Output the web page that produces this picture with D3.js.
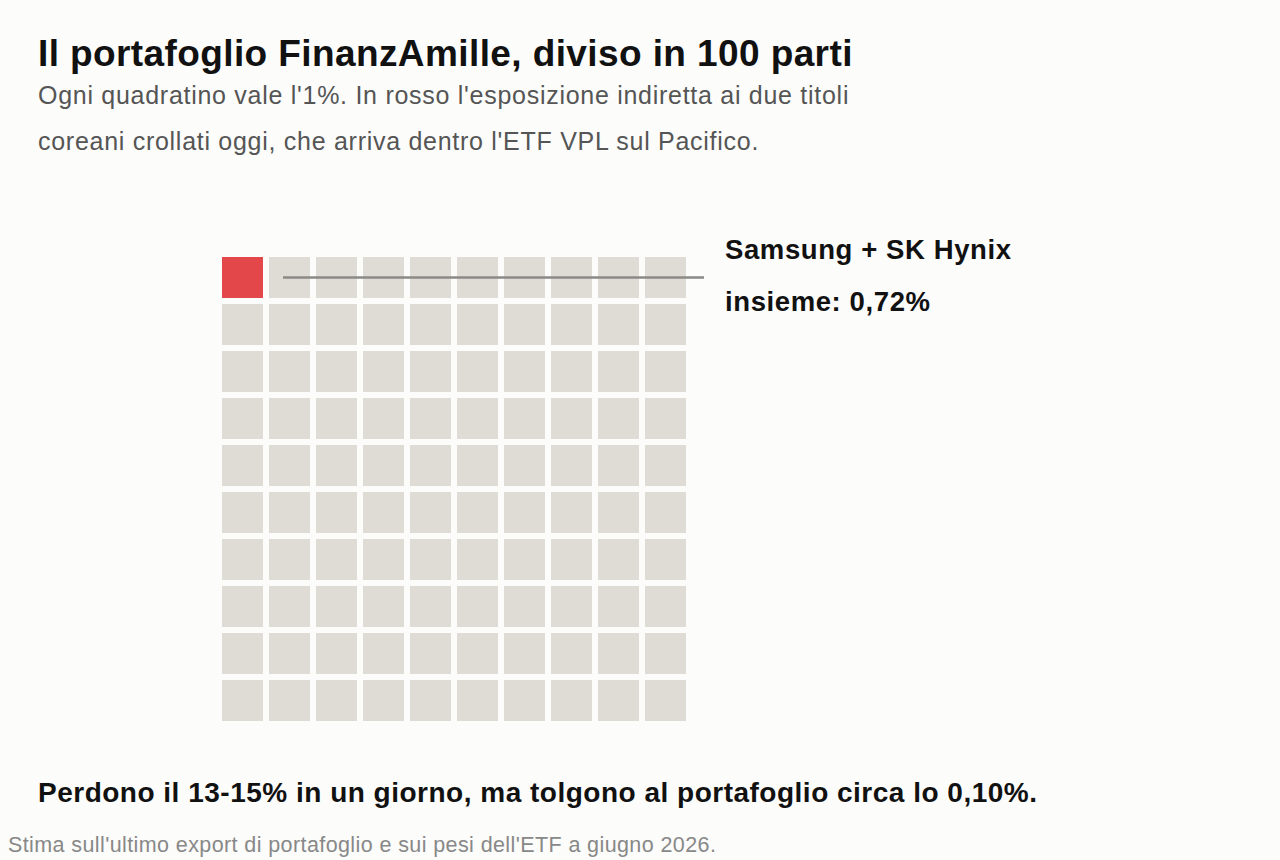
<!DOCTYPE html>
<html>
<head>
<meta charset="utf-8">
<script src="https://cdn.jsdelivr.net/npm/d3@7"></script>
<style>
  html, body { margin: 0; padding: 0; background: #fcfcfa; }
  svg { display: block; font-family: "Liberation Sans", Arial, Helvetica, sans-serif; }
</style>
</head>
<body>
<svg id="chart" width="1280" height="860"></svg>
<script>
// dati
var rows = d3.range(10);
var cols = d3.range(10);
var highlightedCells = 1;        // quadratini rossi (0,72% arrotondato)
var exposurePct = "0,72%";
var titleText = "Il portafoglio FinanzAmille, diviso in 100 parti";
var subtitleLines = [
  "Ogni quadratino vale l'1%. In rosso l'esposizione indiretta ai due titoli",
  "coreani crollati oggi, che arriva dentro l'ETF VPL sul Pacifico."
];
var labelLines = ["Samsung + SK Hynix", "insieme: " + exposurePct];
var noteText = "Perdono il 13-15% in un giorno, ma tolgono al portafoglio circa lo 0,10%.";
var sourceText = "Stima sull'ultimo export di portafoglio e sui pesi dell'ETF a giugno 2026.";

var svg = d3.select("#chart");

var x = d3.scaleBand().domain(cols).range([222, 686]).paddingInner(0.128).paddingOuter(0);
var y = d3.scaleBand().domain(rows).range([257, 721]).paddingInner(0.128).paddingOuter(0);

var cells = [];
rows.forEach(function (r) {
  cols.forEach(function (c) {
    cells.push({ r: r, c: c, i: r * cols.length + c });
  });
});

svg.append("g")
  .selectAll("rect")
  .data(cells)
  .enter().append("rect")
  .attr("x", function (d) { return x(d.c); })
  .attr("y", function (d) { return y(d.r); })
  .attr("width", x.bandwidth())
  .attr("height", y.bandwidth())
  .attr("fill", function (d) { return d.i < highlightedCells ? "#e4474a" : "#dfdcd6"; });

// linea di richiamo
var ly = y(0) + y.bandwidth() / 2;
svg.append("line")
  .attr("x1", x(1) + 14)
  .attr("x2", x(9) + x.bandwidth() + 18)
  .attr("y1", ly)
  .attr("y2", ly)
  .attr("stroke", "#8a8a86")
  .attr("stroke-width", 2.5);

svg.append("g")
  .selectAll("text")
  .data(labelLines)
  .enter().append("text")
  .attr("x", 725)
  .attr("y", function (d, i) { return 259 + i * 52; })
  .attr("font-size", 27.5)
  .attr("letter-spacing", 0.6)
  .attr("font-weight", "bold")
  .attr("fill", "#111")
  .text(function (d) { return d; });

// titoli
svg.append("text")
  .attr("x", 38).attr("y", 66)
  .attr("font-size", 37).attr("letter-spacing", 0.4)
  .attr("font-weight", "bold").attr("fill", "#111")
  .text(titleText);

svg.append("g")
  .selectAll("text")
  .data(subtitleLines)
  .enter().append("text")
  .attr("x", 38)
  .attr("y", function (d, i) { return 104 + i * 46; })
  .attr("font-size", 25)
  .attr("letter-spacing", 0.72)
  .attr("fill", "#555")
  .text(function (d) { return d; });

svg.append("text")
  .attr("x", 38).attr("y", 802)
  .attr("font-size", 28).attr("letter-spacing", 0.5)
  .attr("font-weight", "bold").attr("fill", "#111")
  .text(noteText);

svg.append("text")
  .attr("x", 8).attr("y", 852)
  .attr("font-size", 21.5).attr("letter-spacing", 0.4)
  .attr("fill", "#888")
  .text(sourceText);
</script>
</body>
</html>
